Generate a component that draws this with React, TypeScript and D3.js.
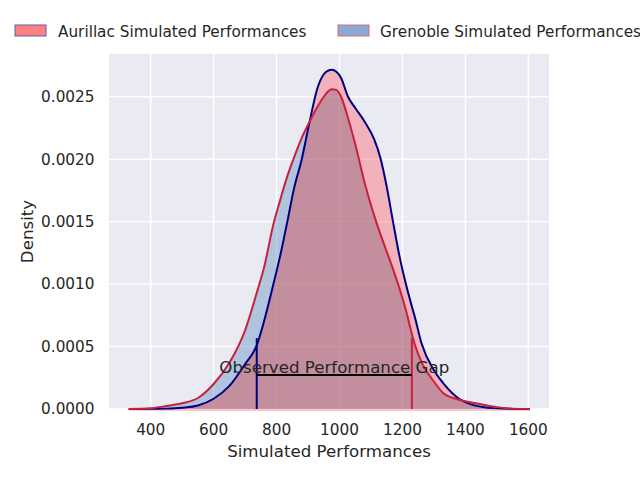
import React from "react";
import * as d3 from "d3";

// Grid of simulated performance values (x) and the KDE density
const perfGrid = [330, 400, 450, 500, 550, 600, 650, 700, 737, 760, 790, 810, 835, 855, 880, 905, 930, 950, 965, 975, 990, 1005, 1027, 1050, 1080, 1110, 1130, 1150, 1170, 1190, 1210, 1230, 1240, 1260, 1300, 1330, 1380, 1420, 1450, 1500, 1550, 1605];
const aurillacDensity = [0, 0.000001, 0.000003, 0.00001, 0.000028, 0.000082, 0.000185, 0.00036, 0.00051, 0.0007, 0.001, 0.00121, 0.00151, 0.00176, 0.002, 0.0023, 0.00257, 0.00268, 0.00271, 0.002715, 0.0027, 0.00265, 0.0025, 0.00241, 0.0023, 0.00216, 0.00201, 0.00178, 0.0015, 0.00123, 0.00101, 0.00082, 0.00073, 0.00053, 0.00031, 0.000206, 0.000082, 0.000035, 0.000018, 0.000005, 0.000001, 0];
const grenobleDensity = [0, 0.000006, 0.000024, 0.000046, 0.000088, 0.0002, 0.00037, 0.00063, 0.00093, 0.00113, 0.00148, 0.00166, 0.00187, 0.00201, 0.00217, 0.0023, 0.00242, 0.0025, 0.002545, 0.00256, 0.002555, 0.0025, 0.00233, 0.00212, 0.00181, 0.00155, 0.0014, 0.00126, 0.00112, 0.00097, 0.0008, 0.0006, 0.00051, 0.00038, 0.00022, 0.000126, 0.000074, 0.000052, 0.000038, 0.000015, 0.000003, 0];

const xTicks = [400, 600, 800, 1000, 1200, 1400, 1600];
const yTicks = [0, 0.0005, 0.001, 0.0015, 0.002, 0.0025];
const seriesNames = ["Aurillac Simulated Performances", "Grenoble Simulated Performances"];
const observedAurillac = 737;
const observedGrenoble = 1230;
const markerHeight = 0.000568;
const gapLineLevel = 0.000272;
const gapLabel = "Observed Performance Gap";

const W = 640, H = 480;
const L = 109, R = 549, T = 54, B = 409;
const FONT = "DejaVu Sans, sans-serif";
const TXT = "#262626";
const NAVY = "#000080";
const RED = "#c8213d";

export default function App() {
  const x = d3.scaleLinear().domain([267.5, 1665.7]).range([L, R]);
  const y = d3.scaleLinear().domain([0, 0.002842]).range([B, T]);
  const pts = perfGrid.map((v, i) => ({ v, a: aurillacDensity[i], g: grenobleDensity[i], m: Math.min(aurillacDensity[i], grenobleDensity[i]) }));
  const curve = d3.curveMonotoneX;
  const overlap = d3.area<any>().x(d => x(d.v)).y0(() => y(0)).y1(d => y(d.m)).curve(curve)(pts) || "";
  const blueOnly = d3.area<any>().x(d => x(d.v)).y0(d => y(d.m)).y1(d => y(d.g)).curve(curve)(pts) || "";
  const pinkOnly = d3.area<any>().x(d => x(d.v)).y0(d => y(d.m)).y1(d => y(d.a)).curve(curve)(pts) || "";
  const lineA = d3.line<any>().x(d => x(d.v)).y(d => y(d.a)).curve(curve)(pts) || "";
  const lineG = d3.line<any>().x(d => x(d.v)).y(d => y(d.g)).curve(curve)(pts) || "";
  const fmtY = d3.format(".4f");

  return (
    <svg width={W} height={H} style={{ position: "absolute", left: 0, top: 0, background: "#fff" }} fontFamily={FONT}>
      <rect x={0} y={0} width={W} height={H} fill="#fff" />
      <rect x={L} y={T} width={R - L} height={B - T} fill="#EAEAF2" />
      {xTicks.map(t => (
        <line key={"gx" + t} x1={x(t)} x2={x(t)} y1={T} y2={B} stroke="#fff" strokeWidth={1.4} />
      ))}
      {yTicks.map(t => (
        <line key={"gy" + t} x1={L} x2={R} y1={y(t)} y2={y(t)} stroke="#fff" strokeWidth={1.4} />
      ))}
      <line x1={x(perfGrid[0])} x2={x(perfGrid[perfGrid.length - 1])} y1={y(0) + 1} y2={y(0) + 1} stroke="#f9c6cf" strokeWidth={2} />
      <path d={overlap} fill="#b2687b" fillOpacity={0.7} />
      <path d={blueOnly} fill="#769eca" fillOpacity={0.5} />
      <path d={pinkOnly} fill="#fa7a84" fillOpacity={0.5} />
      <path d={lineA} fill="none" stroke={NAVY} strokeWidth={2} />
      <path d={lineG} fill="none" stroke={RED} strokeWidth={2} />
      <line x1={x(observedAurillac)} x2={x(observedAurillac)} y1={y(0)} y2={y(markerHeight)} stroke={NAVY} strokeWidth={2} />
      <line x1={x(observedGrenoble)} x2={x(observedGrenoble)} y1={y(0)} y2={y(markerHeight)} stroke={RED} strokeWidth={2} />
      <line x1={x(observedAurillac)} x2={x(observedGrenoble)} y1={y(gapLineLevel)} y2={y(gapLineLevel)} stroke="#000" strokeWidth={2} />
      <text x={(x(observedAurillac) + x(observedGrenoble)) / 2} y={y(gapLineLevel) - 2} textAnchor="middle" fontSize={16.67} fill={TXT}>{gapLabel}</text>
      {xTicks.map(t => (
        <text key={"tx" + t} x={x(t)} y={435} textAnchor="middle" fontSize={15.28} fill={TXT}>{t}</text>
      ))}
      {yTicks.map(t => (
        <text key={"ty" + t} x={94.5} y={y(t)} dy="0.35em" textAnchor="end" fontSize={15.28} fill={TXT}>{fmtY(t)}</text>
      ))}
      <text x={(L + R) / 2} y={457} textAnchor="middle" fontSize={16.67} fill={TXT}>Simulated Performances</text>
      <text transform={`translate(33,${(T + B) / 2}) rotate(-90)`} textAnchor="middle" fontSize={16.67} fill={TXT}>Density</text>
      <rect x={15} y={25} width={31} height={11} fill="#ff8080" stroke="#5a5ab8" strokeWidth={1} />
      <text x={58} y={36.5} fontSize={15.28} fill={TXT}>{seriesNames[0]}</text>
      <rect x={338} y={25} width={31} height={11} fill="#88aad4" stroke="#e06878" strokeWidth={1} />
      <text x={380} y={36.5} fontSize={15.28} fill={TXT}>{seriesNames[1]}</text>
    </svg>
  );
}
